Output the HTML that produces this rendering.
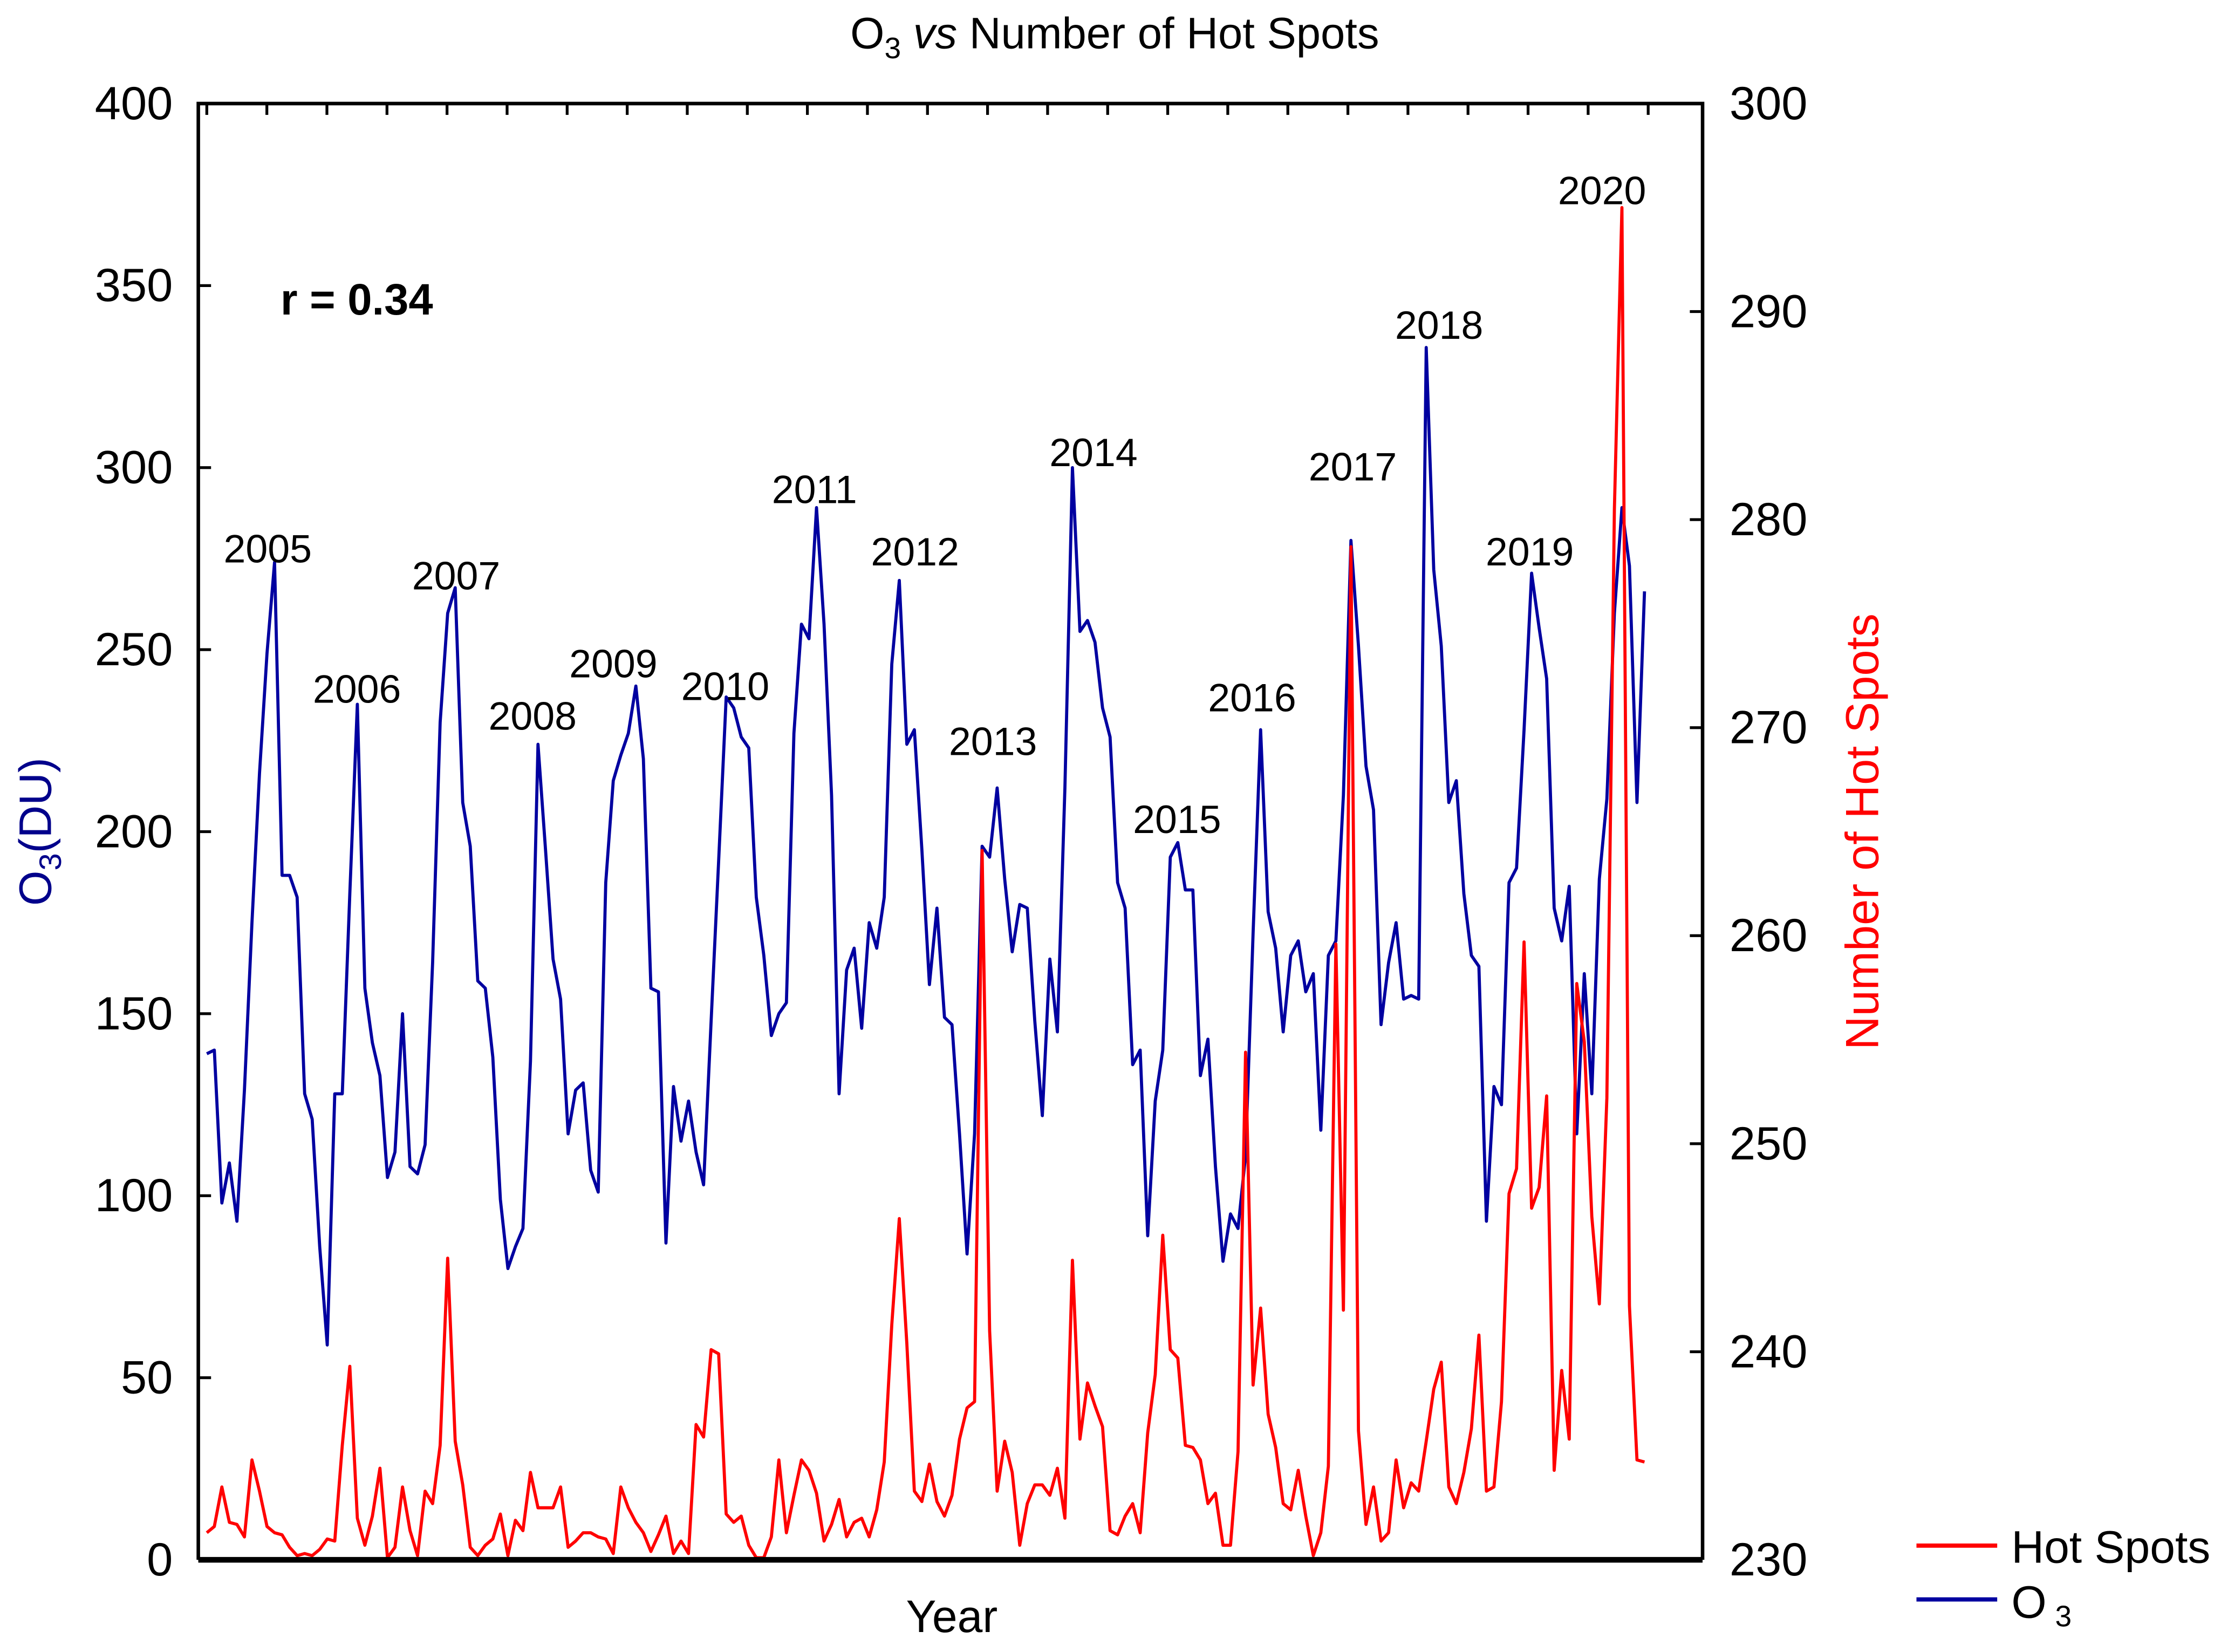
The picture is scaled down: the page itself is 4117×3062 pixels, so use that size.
<!DOCTYPE html>
<html><head><meta charset="utf-8"><style>
html,body{margin:0;padding:0;background:#fff}
svg{display:block}
text{font-family:"Liberation Sans",Arial,sans-serif}
</style></head><body>
<svg id="chart" width="4117" height="3062" viewBox="0 0 1568 1166" xmlns="http://www.w3.org/2000/svg">
<rect width="1568" height="1166" fill="#fff"/>
<text x="787" y="34" font-size="31" text-anchor="middle">O<tspan font-size="21" dy="7">3</tspan><tspan dy="-7"> </tspan><tspan font-style="italic">vs</tspan> Number of Hot Spots</text>
<g id="plot"></g>
<text x="198" y="222" font-size="31" font-weight="bold">r = 0.34</text>
<text transform="translate(36,587) rotate(-90)" font-size="32" fill="#00008b" text-anchor="middle">O<tspan font-size="22" dy="7">3</tspan><tspan dy="-7">(DU)</tspan></text>
<text transform="translate(1326,587) rotate(-90)" font-size="33" fill="#ff0000" text-anchor="middle">Number of Hot Spots</text>
<text x="672" y="1152" font-size="32" text-anchor="middle">Year</text>
<g>
<line x1="1353" y1="1091" x2="1410" y2="1091" stroke="#ff0000" stroke-width="3"/>
<text x="1420" y="1103" font-size="32">Hot Spots</text>
<line x1="1353" y1="1129" x2="1410" y2="1129" stroke="#0000a0" stroke-width="3"/>
<text x="1420" y="1142" font-size="32">O<tspan font-size="21" dx="6" dy="6">3</tspan></text>
</g>
</svg>
<script>
const o3Values=[139,140,98,109,93,129,175,216,249,274,188,188,182,128,121,86,59,128,128,183,235,157,142,133,105,112,150,108,106,114,164,230,260,267,208,196,159,157,138,99,80,86,91,137,224,195,165,154,117,129,131,107,101,186,214,221,227,240,220,157,156,87,130,115,126,112,103,148,192,237,234,226,223,182,166,144,150,153,227,257,253,289,257,210,128,162,168,146,175,168,182,246,269,224,228,195,158,179,149,147,117,84,117,196,193,212,187,167,180,179,148,122,165,145,212,300,255,258,252,234,226,186,179,136,140,89,126,140,193,197,184,184,133,143,108,82,95,91,111,172,228,178,168,145,166,170,156,161,118,166,170,210,280,251,218,206,147,164,175,154,155,154,333,272,251,208,214,183,166,163,93,130,125,186,190,228,271,256,242,179,170,185,117,161,128,187,209,260,289,273,208,266];
const hotSpotValues=[231.3,231.6,233.5,231.8,231.7,231.1,234.8,233.3,231.6,231.3,231.2,230.6,230.2,230.3,230.2,230.5,231.0,230.9,235.5,239.3,232.0,230.7,232.1,234.4,230.1,230.6,233.5,231.4,230.2,233.3,232.7,235.5,244.5,235.7,233.6,230.6,230.2,230.7,231.0,232.2,230.2,231.9,231.4,234.2,232.5,232.5,232.5,233.5,230.6,230.9,231.3,231.3,231.1,231.0,230.3,233.5,232.5,231.8,231.3,230.4,231.2,232.1,230.3,230.9,230.3,236.5,235.9,240.1,239.9,232.2,231.8,232.1,230.7,230.1,230.1,231.1,234.8,231.3,233.1,234.8,234.3,233.2,230.9,231.7,232.9,231.1,231.8,232.0,231.1,232.4,234.7,241.3,246.4,240.4,233.3,232.8,234.6,232.8,232.1,233.1,235.8,237.3,237.6,264.1,241.0,233.3,235.7,234.2,230.7,232.7,233.6,233.6,233.1,234.4,232.0,244.4,235.8,238.5,237.4,236.4,231.4,231.2,232.1,232.7,231.3,236.1,238.9,245.6,240.1,239.7,235.5,235.4,234.8,232.7,233.2,230.7,230.7,235.2,254.4,238.4,242.1,237.0,235.4,232.7,232.4,234.3,232.1,230.2,231.3,234.5,259.6,242.0,278.7,236.2,231.7,233.5,230.9,231.3,234.8,232.5,233.7,233.3,235.7,238.2,239.5,233.5,232.7,234.2,236.3,240.8,233.3,233.5,237.6,247.6,248.8,259.7,246.9,247.9,252.3,234.3,239.1,235.8,257.7,254.9,246.5,242.3,252.2,280.5,295.0,242.2,234.8,234.7];
const leftTicks=[0,50,100,150,200,250,300,350,400];
const rightTicks=[230,240,250,260,270,280,290,300];
const yearLabels=["2005","2006","2007","2008","2009","2010","2011","2012","2013","2014","2015","2016","2017","2018","2019","2020"];
const yearLabelPos=[[189,397],[252,496],[322,416],[376,515],[433,478],[512,494],[575,355],[646,399],[701,533],[772,329],[831,588],[884,502],[955,339],[1016,239],[1080,399],[1131,144]];

const NS="http://www.w3.org/2000/svg";
const L=140,R=1202,T=73,B=1101,X0=146,X1=1161;
const yL=v=>B-(v-0)/(400-0)*(B-T);
const yR=v=>B-(v-230)/(300-230)*(B-T);
const xIdx=(i,n)=>X0+i*(X1-X0)/(n-1);
const g=document.getElementById('plot');
function mk(tag,attrs){const e=document.createElementNS(NS,tag);for(const k in attrs)e.setAttribute(k,attrs[k]);return e;}

let d=o3Values.map((v,i)=>(i?'L':'M')+xIdx(i,o3Values.length).toFixed(2)+','+yL(v).toFixed(2)).join('');
const o3=mk('path',{d:d,fill:'none',stroke:'#0000a0','stroke-width':2.2,'stroke-linejoin':'round'});


g.appendChild(o3);
d=hotSpotValues.map((v,i)=>(i?'L':'M')+xIdx(i,hotSpotValues.length).toFixed(2)+','+yR(v).toFixed(2)).join('');
const hs=mk('path',{d:d,fill:'none',stroke:'#ff0000','stroke-width':2.2,'stroke-linejoin':'round'});


g.appendChild(hs);

const fr=mk('path',{d:`M${L},${B}V${T}H${R}V${B}`,fill:'none',stroke:'#000','stroke-width':2.5});


g.appendChild(fr);
const bx=mk('line',{x1:L,y1:B,x2:R,y2:B,stroke:'#000','stroke-width':4});


g.appendChild(bx);

for(let x=X0;x<R-5;x+=42.4){
  const t=mk('line',{x1:x,y1:T,x2:x,y2:T+8,stroke:'#000','stroke-width':2});
  
  
  g.appendChild(t);
}
leftTicks.forEach(v=>{
  const y=yL(v);
  const t=mk('line',{x1:L,y1:y,x2:L+9,y2:y,stroke:'#000','stroke-width':2});
  
  
  g.appendChild(t);
  const tx=mk('text',{x:122,y:y+11,'font-size':33,'text-anchor':'end'});
  tx.textContent=v;
  
  
  g.appendChild(tx);
});
rightTicks.forEach(v=>{
  const y=yR(v);
  const t=mk('line',{x1:R-9,y1:y,x2:R,y2:y,stroke:'#000','stroke-width':2});
  
  
  g.appendChild(t);
  const tx=mk('text',{x:1221,y:y+11,'font-size':33,'text-anchor':'start'});
  tx.textContent=v;
  
  
  g.appendChild(tx);
});
yearLabels.forEach((s,i)=>{
  const tx=mk('text',{x:yearLabelPos[i][0],y:yearLabelPos[i][1],'font-size':28,'text-anchor':'middle'});
  tx.textContent=s;
  
  
  g.appendChild(tx);
});
</script>
</body></html>
